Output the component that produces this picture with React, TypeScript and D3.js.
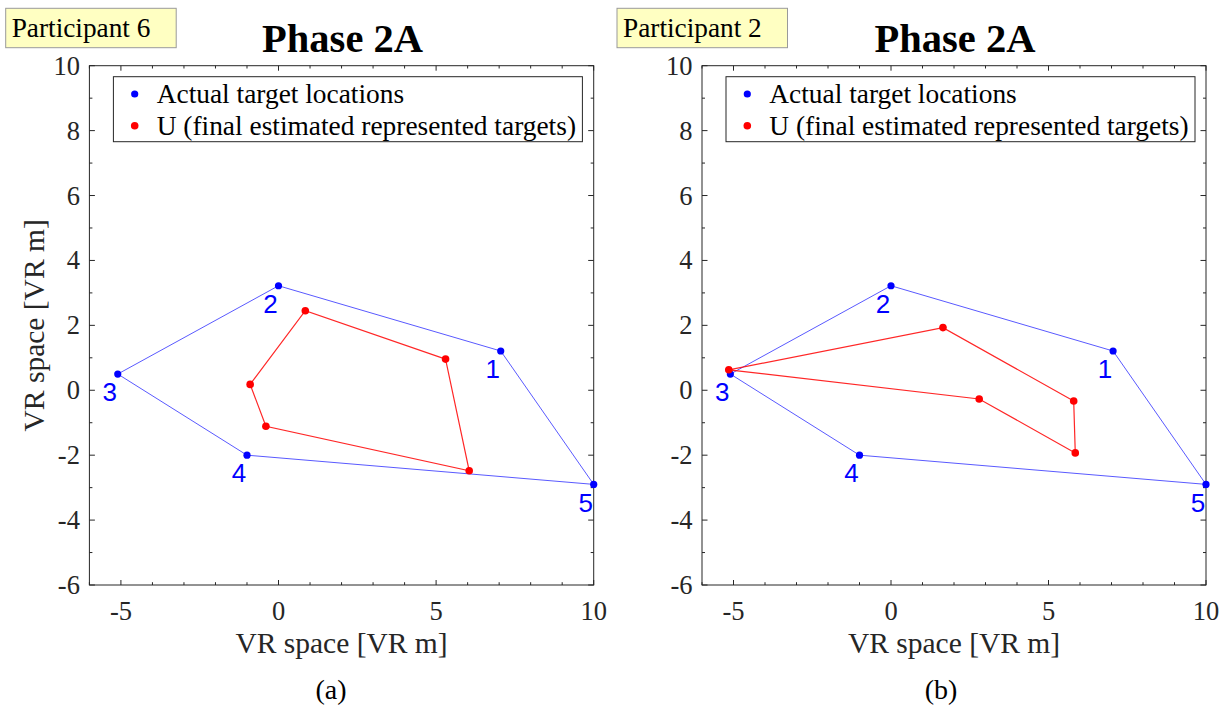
import React from "react";
import * as d3 from "d3";

// Actual target locations (shared by both participants), in VR metres
const targetLabels = ["1", "2", "3", "4", "5"];
const targetX = [7.05, 0, -5.1, -1.0, 10];
const targetY = [1.21, 3.22, 0.5, -2.0, -2.9];

// U: final estimated represented targets, participant 6
const p6X = [5.3, 0.85, -0.9, -0.4, 6.05];
const p6Y = [0.96, 2.45, 0.18, -1.11, -2.48];

// U: final estimated represented targets, participant 2
const p2X = [5.8, 1.65, -5.15, 2.8, 5.85];
const p2Y = [-0.33, 1.93, 0.63, -0.27, -1.93];

const xTickLabels = [-5, 0, 5, 10];
const yTickLabels = [-6, -4, -2, 0, 2, 4, 6, 8, 10];
const domain: [number, number] = [-6, 10];

const SERIF = "'Liberation Serif', 'Times New Roman', serif";
const SANS = "'Liberation Sans', Arial, sans-serif";
const AXIS = "#262626";

type PanelProps = {
  left: number;
  right: number;
  participant: string;
  boxX: number;
  estX: number[];
  estY: number[];
  caption: string;
  captionX: number;
  showYLabel: boolean;
};

function Panel(props: PanelProps) {
  const { left, right, participant, boxX, estX, estY, caption, captionX, showYLabel } = props;
  const top = 65.7;
  const bottom = 585;
  const x = d3.scaleLinear().domain(domain).range([left, right]);
  const y = d3.scaleLinear().domain(domain).range([bottom, top]);
  const cx = (left + right) / 2;

  const targets = targetX.map((v, i) => [x(v), y(targetY[i])] as [number, number]);
  const est = estX.map((v, i) => [x(v), y(estY[i])] as [number, number]);
  const closed = d3.line().curve(d3.curveLinearClosed);

  const unitTicks = d3.range(-6, 11, 1);

  return (
    <g>
      {/* participant tag */}
      <rect x={boxX} y={8.3} width={170.5} height={39.4} fill="#FFFFC2" stroke="#9a9a9a" strokeWidth={1} />
      <text x={boxX + 6} y={37.3} fontFamily={SERIF} fontSize={27.3} fill="#000">
        {participant}
      </text>

      {/* title */}
      <text x={cx + 1} y={52} textAnchor="middle" fontFamily={SERIF} fontWeight="bold" fontSize={40.5} fill="#000">
        Phase 2A
      </text>

      {/* axes box */}
      <rect x={left} y={top} width={right - left} height={bottom - top} fill="#fff" stroke={AXIS} strokeWidth={1} />

      {/* ticks on all four sides, pointing inward */}
      {unitTicks.map((t) => {
        const major = t % 5 === 0;
        const len = major ? 5 : 2.8;
        return (
          <g key={"xt" + t} stroke={AXIS} strokeWidth={1}>
            <line x1={x(t)} x2={x(t)} y1={bottom} y2={bottom - len} />
            <line x1={x(t)} x2={x(t)} y1={top} y2={top + len} />
          </g>
        );
      })}
      {unitTicks.map((t) => {
        const major = t % 2 === 0;
        const len = major ? 5.5 : 3;
        return (
          <g key={"yt" + t} stroke={AXIS} strokeWidth={1}>
            <line x1={left} x2={left + len} y1={y(t)} y2={y(t)} />
            <line x1={right} x2={right - len} y1={y(t)} y2={y(t)} />
          </g>
        );
      })}

      {/* tick labels */}
      {xTickLabels.map((t) => (
        <text key={"xl" + t} x={x(t)} y={619.5} textAnchor="middle" fontFamily={SERIF} fontSize={26.5} fill={AXIS}>
          {t}
        </text>
      ))}
      {yTickLabels.map((t) => (
        <text key={"yl" + t} x={left - 9.5} y={y(t) + 9} textAnchor="end" fontFamily={SERIF} fontSize={26.5} fill={AXIS}>
          {t}
        </text>
      ))}

      {/* axis labels */}
      <text x={cx} y={653.3} textAnchor="middle" fontFamily={SERIF} fontSize={29.5} fill={AXIS}>
        VR space [VR m]
      </text>
      {showYLabel && (
        <text
          transform={`translate(${left - 45},${(top + bottom) / 2}) rotate(-90)`}
          textAnchor="middle"
          fontFamily={SERIF}
          fontSize={29.5}
          fill={AXIS}
        >
          VR space [VR m]
        </text>
      )}

      {/* polygons */}
      <path d={closed(targets) || ""} fill="none" stroke="#0000FF" strokeOpacity={0.65} strokeWidth={1} />
      <path d={closed(est) || ""} fill="none" stroke="#FF0000" strokeOpacity={0.85} strokeWidth={1.2} />

      {targets.map((p, i) => (
        <circle key={"tc" + i} cx={p[0]} cy={p[1]} r={3.6} fill="#0000FF" />
      ))}
      {est.map((p, i) => (
        <circle key={"ec" + i} cx={p[0]} cy={p[1]} r={3.8} fill="#FF0000" />
      ))}

      {targets.map((p, i) => (
        <text key={"tl" + i} x={p[0] - 8} y={p[1] + 27.3} textAnchor="middle" fontFamily={SANS} fontSize={26} fill="#0000FF">
          {targetLabels[i]}
        </text>
      ))}

      {/* legend */}
      <rect x={left + 24} y={76.7} width={469} height={65} fill="#fff" stroke={AXIS} strokeWidth={1} />
      <circle cx={left + 45.3} cy={94} r={3.6} fill="#0000FF" />
      <circle cx={left + 45.3} cy={125.7} r={3.8} fill="#FF0000" />
      <text x={left + 67.3} y={103.3} fontFamily={SERIF} fontSize={27.4} fill="#000">
        Actual target locations
      </text>
      <text x={left + 67.3} y={135} fontFamily={SERIF} fontSize={27.4} fill="#000">
        U (final estimated represented targets)
      </text>

      {/* sub-figure caption */}
      <text x={captionX} y={699} textAnchor="middle" fontFamily={SERIF} fontSize={28} fill="#000">
        {caption}
      </text>
    </g>
  );
}

export default function App() {
  return (
    <svg
      width={1221}
      height={706}
      viewBox="0 0 1221 706"
      style={{ position: "absolute", left: 0, top: 0, display: "block", background: "#fff" }}
    >
      <rect x={0} y={0} width={1221} height={706} fill="#fff" />
      <Panel
        left={89.4}
        right={593.7}
        participant="Participant 6"
        boxX={5.7}
        estX={p6X}
        estY={p6Y}
        caption="(a)"
        captionX={331}
        showYLabel={true}
      />
      <Panel
        left={702}
        right={1206}
        participant="Participant 2"
        boxX={617}
        estX={p2X}
        estY={p2Y}
        caption="(b)"
        captionX={941}
        showYLabel={false}
      />
    </svg>
  );
}
